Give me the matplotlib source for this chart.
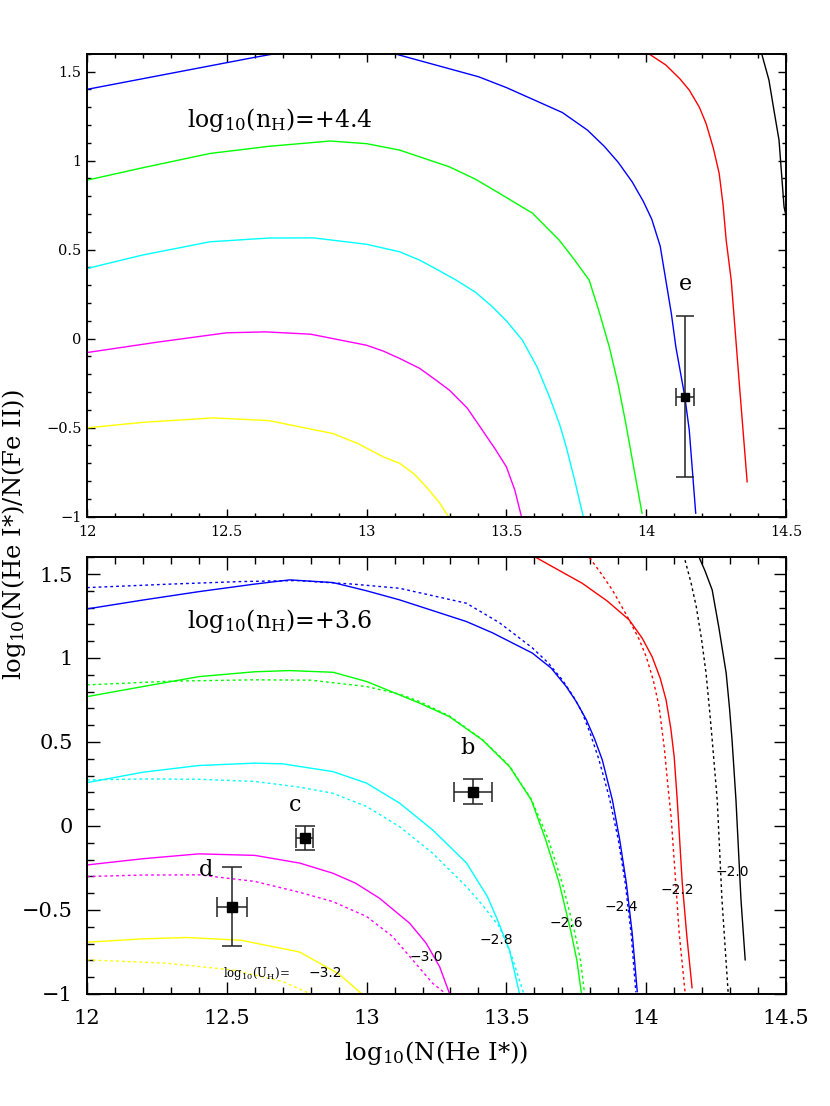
import matplotlib
matplotlib.use("Agg")
import matplotlib.pyplot as plt
from matplotlib.ticker import MultipleLocator, FuncFormatter

plt.rcParams['font.family'] = ['DejaVu Serif']
plt.rcParams['mathtext.fontset'] = 'dejavuserif'

# ---------------- Top panel: log10(nH) = +4.4 (solid models) ----------------
t_blue_x = [12.0, 12.3, 12.6, 12.85, 13.1, 13.40, 13.5, 13.6, 13.7, 13.79, 13.85, 13.9, 13.95, 13.99, 14.02, 14.05, 14.07, 14.09, 14.106, 14.138, 14.154, 14.177]
t_blue_y = [1.40, 1.49, 1.58, 1.65, 1.60, 1.471, 1.41, 1.34, 1.27, 1.171, 1.08, 0.99, 0.88, 0.77, 0.67, 0.52, 0.33, 0.14, -0.046, -0.325, -0.514, -0.98]
t_green_x = [12.0, 12.2, 12.44, 12.65, 12.87, 13.0, 13.118, 13.296, 13.39, 13.475, 13.593, 13.689, 13.74, 13.796, 13.83, 13.868, 13.90, 13.927, 13.955, 13.985]
t_green_y = [0.89, 0.96, 1.04, 1.08, 1.11, 1.095, 1.059, 0.965, 0.895, 0.816, 0.705, 0.553, 0.45, 0.329, 0.16, -0.046, -0.26, -0.476, -0.72, -0.98]
t_cyan_x = [12.0, 12.2, 12.44, 12.65, 12.81, 13.0, 13.118, 13.19, 13.25, 13.32, 13.39, 13.45, 13.50, 13.557, 13.61, 13.654, 13.69, 13.714, 13.745, 13.775]
t_cyan_y = [0.394, 0.47, 0.544, 0.565, 0.566, 0.53, 0.488, 0.441, 0.39, 0.329, 0.26, 0.179, 0.10, -0.008, -0.16, -0.327, -0.48, -0.608, -0.80, -1.0]
t_mag_x = [12.0, 12.25, 12.5, 12.64, 12.8, 13.0, 13.06, 13.118, 13.19, 13.25, 13.296, 13.36, 13.414, 13.46, 13.5, 13.53, 13.554]
t_mag_y = [-0.078, -0.02, 0.033, 0.038, 0.025, -0.037, -0.07, -0.111, -0.167, -0.235, -0.289, -0.39, -0.514, -0.62, -0.72, -0.85, -1.0]
t_yel_x = [12.0, 12.2, 12.45, 12.65, 12.88, 12.97, 13.06, 13.118, 13.17, 13.214, 13.26, 13.293]
t_yel_y = [-0.501, -0.47, -0.445, -0.46, -0.533, -0.59, -0.664, -0.70, -0.76, -0.833, -0.92, -1.0]
t_red_x = [13.98, 14.011, 14.07, 14.12, 14.154, 14.19, 14.214, 14.24, 14.261, 14.275, 14.286, 14.304, 14.332, 14.361]
t_red_y = [1.70, 1.598, 1.537, 1.46, 1.396, 1.30, 1.209, 1.07, 0.928, 0.75, 0.553, 0.329, -0.233, -0.804]
t_blk_x = [14.40, 14.413, 14.439, 14.455, 14.475, 14.493, 14.50, 14.51]
t_blk_y = [1.66, 1.60, 1.452, 1.30, 1.115, 0.74, 0.69, 0.50]

# observation e
e_x, e_y, e_xerr, e_yerr = [14.138], [-0.325], [0.032], [0.45]

# ---------------- Bottom panel: log10(nH) = +3.6 ----------------
b_blue_x = [12.0, 12.2, 12.4, 12.6, 12.725, 12.88, 13.0, 13.118, 13.357, 13.45, 13.593, 13.66, 13.714, 13.75, 13.786, 13.815, 13.843, 13.86, 13.879, 13.905, 13.929, 13.95, 13.968]
b_blue_y = [1.292, 1.345, 1.395, 1.44, 1.465, 1.449, 1.40, 1.346, 1.217, 1.15, 1.029, 0.94, 0.830, 0.74, 0.632, 0.52, 0.393, 0.28, 0.155, -0.08, -0.34, -0.64, -0.986]
b_blue_dx = [12.0, 12.3, 12.55, 12.75, 12.95, 13.118, 13.357, 13.475, 13.593, 13.65, 13.70, 13.74, 13.77, 13.80, 13.83, 13.85, 13.87, 13.90, 13.925, 13.946, 13.963]
b_blue_dy = [1.419, 1.44, 1.455, 1.461, 1.44, 1.415, 1.326, 1.21, 1.06, 0.97, 0.87, 0.77, 0.68, 0.55, 0.40, 0.28, 0.155, -0.08, -0.34, -0.64, -0.99]
b_green_x = [12.0, 12.2, 12.4, 12.6, 12.725, 12.88, 13.0, 13.118, 13.19, 13.296, 13.414, 13.511, 13.589, 13.64, 13.689, 13.732, 13.752, 13.768]
b_green_y = [0.77, 0.83, 0.889, 0.918, 0.925, 0.915, 0.86, 0.78, 0.731, 0.651, 0.512, 0.354, 0.155, -0.08, -0.34, -0.638, -0.80, -0.992]
b_green_dx = [12.0, 12.3, 12.6, 12.8, 13.0, 13.118, 13.19, 13.296, 13.414, 13.511, 13.589, 13.65, 13.70, 13.745, 13.765, 13.779]
b_green_dy = [0.84, 0.862, 0.87, 0.868, 0.83, 0.785, 0.74, 0.655, 0.515, 0.357, 0.16, -0.08, -0.34, -0.638, -0.80, -0.99]
b_cyan_x = [12.0, 12.2, 12.4, 12.6, 12.7, 12.761, 12.879, 13.0, 13.118, 13.236, 13.357, 13.432, 13.468, 13.511, 13.546]
b_cyan_y = [0.258, 0.32, 0.36, 0.374, 0.37, 0.354, 0.324, 0.255, 0.136, -0.023, -0.22, -0.42, -0.559, -0.738, -0.992]
b_cyan_dx = [12.0, 12.2, 12.4, 12.6, 12.761, 12.879, 13.0, 13.118, 13.236, 13.357, 13.414, 13.475, 13.52, 13.561]
b_cyan_dy = [0.274, 0.28, 0.278, 0.265, 0.231, 0.195, 0.116, -0.004, -0.162, -0.361, -0.47, -0.60, -0.78, -0.992]
b_mag_x = [12.0, 12.2, 12.4, 12.6, 12.761, 12.879, 12.96, 13.046, 13.154, 13.213, 13.261, 13.296]
b_mag_y = [-0.232, -0.195, -0.166, -0.175, -0.221, -0.281, -0.34, -0.43, -0.579, -0.698, -0.837, -0.995]
b_mag_dx = [12.0, 12.2, 12.4, 12.6, 12.761, 12.879, 13.0, 13.093, 13.164, 13.236, 13.28]
b_mag_dy = [-0.301, -0.292, -0.291, -0.33, -0.395, -0.45, -0.539, -0.658, -0.796, -0.936, -0.995]
b_yel_x = [12.0, 12.2, 12.357, 12.55, 12.76, 12.90, 12.98]
b_yel_y = [-0.692, -0.672, -0.664, -0.68, -0.75, -0.88, -0.995]
b_yel_dx = [12.0, 12.286, 12.52, 12.70, 12.80]
b_yel_dy = [-0.797, -0.817, -0.857, -0.926, -1.0]
b_red_x = [13.58, 13.604, 13.69, 13.771, 13.86, 13.939, 13.985, 14.021, 14.05, 14.071, 14.088, 14.10, 14.111, 14.129, 14.145, 14.164]
b_red_y = [1.65, 1.60, 1.52, 1.445, 1.34, 1.227, 1.12, 1.008, 0.88, 0.751, 0.58, 0.413, 0.155, -0.34, -0.65, -0.963]
b_red_dx = [13.78, 13.796, 13.84, 13.879, 13.939, 13.975, 14.0, 14.025, 14.046, 14.065, 14.079, 14.089, 14.104, 14.118, 14.139]
b_red_dy = [1.66, 1.60, 1.50, 1.405, 1.227, 1.11, 1.008, 0.87, 0.711, 0.46, 0.215, 0.056, -0.30, -0.638, -0.99]
b_blk_x = [14.18, 14.189, 14.21, 14.236, 14.26, 14.286, 14.298, 14.307, 14.321, 14.339, 14.354]
b_blk_y = [1.65, 1.60, 1.52, 1.405, 1.18, 0.910, 0.70, 0.512, 0.155, -0.44, -0.797]
b_blk_dx = [14.13, 14.136, 14.16, 14.179, 14.198, 14.214, 14.226, 14.236, 14.254, 14.271, 14.293]
b_blk_dy = [1.65, 1.60, 1.45, 1.306, 1.11, 0.910, 0.70, 0.512, 0.155, -0.44, -0.99]

# observations b, c, d
obs_names = ['b', 'c', 'd']
obs_x = [13.38, 12.779, 12.519]
obs_y = [0.205, -0.073, -0.48]
obs_xerr = [0.067, 0.03, 0.054]
obs_yerr = [0.075, 0.071, 0.235]
obs_lab_x = [13.36, 12.746, 12.427]
obs_lab_y = [0.465, 0.126, -0.265]

# contour (log10 U_H) labels
u_labels = ['−3.0', '−2.8', '−2.6', '−2.4', '−2.2', '−2.0']
u_lab_x = [13.213, 13.464, 13.714, 13.911, 14.111, 14.307]
u_lab_y = [-0.777, -0.678, -0.579, -0.48, -0.381, -0.271]

xticks = [12, 12.5, 13, 13.5, 14, 14.5]
yticks = [-1, -0.5, 0, 0.5, 1, 1.5]

fig = plt.figure(figsize=(8.3, 11.06), dpi=100)
ax1 = fig.add_axes([0.1048, 0.5328, 0.8422, 0.4186])
ax2 = fig.add_axes([0.1048, 0.1013, 0.8422, 0.3949])

fmt = FuncFormatter(lambda v, p: ('%g' % v).replace('-', '−'))
LW = 1.0
DOT = (0, (2.0, 2.2))

def style(ax, lsize, majlen, minlen, xpad, ypad):
    ax.set_xlim(12, 14.5)
    ax.set_ylim(-1, 1.6)
    ax.set_xticks(xticks)
    ax.set_yticks(yticks)
    ax.xaxis.set_minor_locator(MultipleLocator(0.1))
    ax.yaxis.set_minor_locator(MultipleLocator(0.1))
    ax.xaxis.set_major_formatter(fmt)
    ax.yaxis.set_major_formatter(fmt)
    ax.tick_params(which='both', direction='in', top=True, right=True, width=1.0)
    ax.tick_params(which='major', length=majlen, labelsize=lsize)
    ax.tick_params(which='minor', length=minlen)
    ax.tick_params(axis='x', which='major', pad=xpad)
    ax.tick_params(axis='y', which='major', pad=ypad)
    for s in ax.spines.values():
        s.set_linewidth(1.4)

# top panel
ax1.plot(t_blue_x, t_blue_y, color='#0000ff', lw=LW)
ax1.plot(t_green_x, t_green_y, color='#00ff00', lw=LW)
ax1.plot(t_cyan_x, t_cyan_y, color='#00ffff', lw=LW)
ax1.plot(t_mag_x, t_mag_y, color='#ff00ff', lw=LW)
ax1.plot(t_yel_x, t_yel_y, color='#ffff00', lw=LW)
ax1.plot(t_red_x, t_red_y, color='#ff0000', lw=LW)
ax1.plot(t_blk_x, t_blk_y, color='black', lw=LW)
ax1.errorbar(e_x, e_y, xerr=e_xerr, yerr=e_yerr, fmt='s', color='black', ms=6,
             ecolor='#222222', elinewidth=1.1, capsize=6.5, capthick=1.1)
ax1.text(14.139, 0.306, 'e', fontsize=16, ha='center', va='center')
ax1.text(12.69, 1.227, r'log$_{10}$(n$_{\rm H}$)=+4.4', fontsize=17, ha='center', va='center')
style(ax1, 10.5, 5.5, 3.2, 6, 4)

# bottom panel
ax2.plot(b_blue_x, b_blue_y, color='#0000ff', lw=LW)
ax2.plot(b_blue_dx, b_blue_dy, color='#0000ff', lw=LW, ls=DOT)
ax2.plot(b_green_x, b_green_y, color='#00ff00', lw=LW)
ax2.plot(b_green_dx, b_green_dy, color='#00ff00', lw=LW, ls=DOT)
ax2.plot(b_cyan_x, b_cyan_y, color='#00ffff', lw=LW)
ax2.plot(b_cyan_dx, b_cyan_dy, color='#00ffff', lw=LW, ls=DOT)
ax2.plot(b_mag_x, b_mag_y, color='#ff00ff', lw=LW)
ax2.plot(b_mag_dx, b_mag_dy, color='#ff00ff', lw=LW, ls=DOT)
ax2.plot(b_yel_x, b_yel_y, color='#ffff00', lw=LW)
ax2.plot(b_yel_dx, b_yel_dy, color='#ffff00', lw=LW, ls=DOT)
ax2.plot(b_red_x, b_red_y, color='#ff0000', lw=LW)
ax2.plot(b_red_dx, b_red_dy, color='#ff0000', lw=LW, ls=DOT)
ax2.plot(b_blk_x, b_blk_y, color='black', lw=LW)
ax2.plot(b_blk_dx, b_blk_dy, color='black', lw=LW, ls=DOT)
ax2.errorbar(obs_x, obs_y, xerr=obs_xerr, yerr=obs_yerr, fmt='s', color='black', ms=6.7,
             ecolor='#222222', elinewidth=1.1, capsize=7, capthick=1.1, ls='none')
for n, lx, ly in zip(obs_names, obs_lab_x, obs_lab_y):
    ax2.text(lx, ly, n, fontsize=16, ha='center', va='center')
for t, lx, ly in zip(u_labels, u_lab_x, u_lab_y):
    ax2.text(lx, ly, t, fontsize=10, ha='center', va='center', family='DejaVu Sans')
ax2.text(12.725, -0.88, r'log$_{10}$(U$_{\rm H}$)=', fontsize=8.5, ha='right', va='center')
ax2.text(12.853, -0.873, '−3.2', fontsize=10, ha='center', va='center', family='DejaVu Sans')
ax2.text(12.69, 1.22, r'log$_{10}$(n$_{\rm H}$)=+3.6', fontsize=17, ha='center', va='center')
style(ax2, 15, 9, 4.8, 11, 10)

fig.text(14 / 830, 1 - 535 / 1106, r'log$_{10}$(N(He I*)/N(Fe II))', rotation=90,
         fontsize=17.5, ha='center', va='center')
fig.text(436 / 830, 1 - 1053 / 1106, r'log$_{10}$(N(He I*))', fontsize=17.5,
         ha='center', va='center')

fig.savefig('out.png', dpi=100)
